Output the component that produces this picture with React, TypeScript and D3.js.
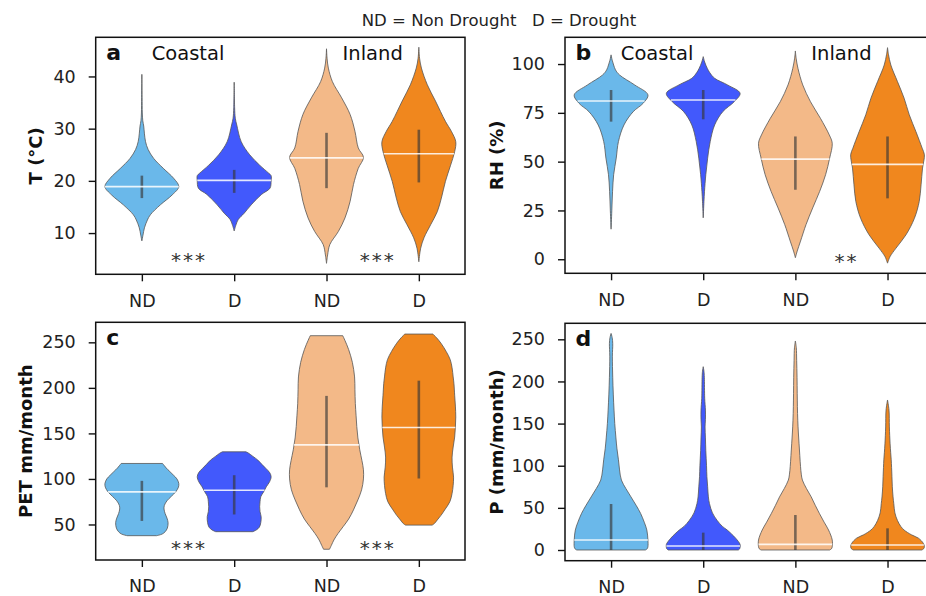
import { useEffect, useRef } from 'react';
import * as d3 from 'd3';

type Shape = [number, number][]; // [value, relative density 0..1]

const groups = ['ND', 'D', 'ND', 'D'];
const regions = ['Coastal', 'Inland'];
const colors = ['#6ab8ea', '#4259fc', '#f3b988', '#f0871e'];

// a: T (°C)
const tempShapes: Shape[] = [
  [[8.5, 0], [9.6, 0.03], [11, 0.07], [12.5, 0.15], [13.5, 0.23], [15.4, 0.5], [17.3, 0.82], [18.9, 1], [20.5, 0.86], [22.4, 0.58], [24.3, 0.32], [26, 0.17], [27.5, 0.1], [29, 0.07], [30.5, 0.05], [31.5, 0.025], [33, 0.012], [36, 0.006], [40.4, 0]],
  [[10.4, 0], [11.6, 0.05], [12.6, 0.11], [13.8, 0.27], [15.4, 0.46], [17.4, 0.74], [18.6, 0.97], [20, 1], [21, 1], [21.5, 0.93], [23, 0.69], [25, 0.42], [27.5, 0.19], [30.7, 0.07], [32, 0.03], [34, 0.012], [38.9, 0]],
  [[4.2, 0], [5.8, 0.03], [7.8, 0.09], [10.3, 0.32], [12.9, 0.5], [16.1, 0.64], [19.3, 0.73], [22.4, 0.86], [24.5, 1], [26.3, 0.86], [29.5, 0.77], [32.7, 0.64], [35.9, 0.41], [39, 0.16], [41.6, 0.05], [43.5, 0.015], [45.3, 0]],
  [[4.5, 0], [7.1, 0.05], [9.1, 0.14], [11.6, 0.32], [14.1, 0.5], [16.7, 0.61], [19.9, 0.72], [23, 0.86], [25.6, 0.97], [27.5, 1], [29.5, 0.88], [31.4, 0.72], [35.3, 0.45], [38.4, 0.23], [41.6, 0.07], [43.5, 0.02], [45.6, 0]],
];
const tempMedians = [18.9, 20.1, 24.4, 25.2];
const tempIqr = [[16.7, 21.0], [17.7, 22.1], [18.6, 29.2], [19.7, 29.8]];
const tempTicks = [10, 20, 30, 40];

// b: RH (%)
const rhShapes: Shape[] = [
  [[15.4, 0], [24.8, 0.02], [34.8, 0.04], [43.3, 0.07], [51.8, 0.14], [60.3, 0.2], [68.8, 0.35], [75.6, 0.6], [79.9, 0.87], [84.2, 1], [89.3, 0.64], [94.4, 0.23], [97, 0.12], [99.5, 0.07], [102, 0.03], [104.7, 0]],
  [[21.2, 0], [29.7, 0.02], [34.8, 0.035], [43.3, 0.07], [51.8, 0.12], [60.3, 0.19], [68.8, 0.31], [75.6, 0.53], [80.7, 0.84], [85, 1], [89.3, 0.66], [92.7, 0.31], [95.5, 0.18], [97.8, 0.11], [101, 0.04], [103.8, 0]],
  [[0.8, 0], [4.2, 0.05], [9.3, 0.14], [17.8, 0.29], [26.3, 0.47], [34.8, 0.66], [43.3, 0.82], [51.8, 0.93], [59.4, 1], [63.7, 0.92], [72.2, 0.68], [80.7, 0.41], [89.3, 0.2], [97.8, 0.07], [103, 0.02], [106.7, 0]],
  [[-2, 0], [1.4, 0.07], [5.7, 0.23], [12.5, 0.5], [21, 0.73], [29.6, 0.86], [38.1, 0.91], [46.7, 0.95], [53.5, 1], [56.9, 0.94], [65.4, 0.77], [74, 0.59], [82.5, 0.45], [91, 0.27], [99.5, 0.09], [105, 0.025], [108.4, 0]],
];
const rhMedians = [81.1, 81.6, 51.3, 48.6];
const rhIqr = [[70.5, 86.7], [71.7, 86.7], [35.6, 62.9], [31.2, 62.9]];
const rhTicks = [0, 25, 50, 75, 100];

// c: PET mm/month
const petShapes: Shape[] = [
  [[37.7, 0.4], [39.5, 0.55], [42, 0.63], [46, 0.69], [52, 0.71], [57, 0.68], [62, 0.63], [67, 0.6], [71, 0.61], [76, 0.68], [81, 0.8], [86, 0.92], [91, 0.99], [95, 1], [100, 0.95], [104, 0.86], [108, 0.76], [112, 0.66], [115, 0.6], [117, 0.56]],
  [[42.1, 0.5], [44, 0.6], [47, 0.68], [52, 0.72], [58.5, 0.73], [64, 0.7], [69.5, 0.69], [75, 0.7], [80.4, 0.72], [86, 0.8], [91.4, 0.87], [97, 0.96], [102.4, 1], [107, 0.96], [111.5, 0.86], [116, 0.75], [120.7, 0.64], [125, 0.5], [128, 0.4], [129.8, 0.32]],
  [[22.8, 0.08], [27, 0.13], [33, 0.2], [40, 0.31], [47.6, 0.45], [56, 0.6], [66, 0.73], [77, 0.85], [88, 0.95], [100, 1], [110, 1], [120, 0.96], [132, 0.9], [145, 0.85], [157.5, 0.82], [170, 0.8], [183, 0.78], [198, 0.77], [212, 0.76], [228, 0.7], [242, 0.6], [252, 0.5], [257.3, 0.44]],
  [[49.3, 0.36], [51, 0.42], [55, 0.5], [60, 0.6], [66, 0.7], [75, 0.84], [84, 0.9], [93, 0.93], [102, 0.94], [113, 0.91], [124, 0.9], [135, 0.93], [146, 0.97], [157, 0.99], [168, 1], [180, 0.99], [192, 0.97], [205, 0.95], [212, 0.93], [222, 0.9], [231, 0.85], [240, 0.74], [249, 0.6], [255, 0.48], [259.1, 0.38]],
];
const petMedians = [85.8, 87.6, 137.4, 156.5];
const petIqr = [[53.9, 97.9], [61, 104.1], [90.8, 191.2], [100.5, 207.9]];
const petTicks = [50, 100, 150, 200, 250];

// d: P (mm/month)
const precShapes: Shape[] = [
  [[0, 0.93], [1.5, 0.98], [4, 1], [11.8, 1], [23.7, 0.97], [33, 0.9], [43.5, 0.8], [53, 0.68], [63, 0.54], [73, 0.4], [83, 0.28], [95, 0.23], [107, 0.2], [120, 0.16], [134, 0.13], [150, 0.1], [166, 0.08], [185, 0.06], [205, 0.045], [230, 0.035], [245, 0.045], [252, 0.03], [257, 0]],
  [[0, 0.95], [1.5, 0.99], [3, 1], [6.6, 1], [14, 0.88], [23.7, 0.65], [28, 0.52], [35, 0.38], [44, 0.25], [55, 0.17], [63, 0.14], [75, 0.12], [87, 0.1], [100, 0.09], [118, 0.07], [133, 0.06], [146, 0.05], [155, 0.06], [166, 0.06], [180, 0.04], [205, 0.03], [212, 0.02], [217.5, 0]],
  [[0, 0.93], [1.5, 0.98], [4, 1], [11.8, 1], [23.7, 0.9], [33, 0.78], [43.5, 0.65], [53, 0.54], [63, 0.43], [73, 0.3], [83, 0.19], [90, 0.16], [99, 0.14], [112, 0.12], [126, 0.1], [140, 0.08], [154, 0.065], [170, 0.055], [186, 0.05], [205, 0.045], [225, 0.035], [240, 0.025], [248, 0]],
  [[0, 0.93], [1.5, 0.98], [4, 1], [8, 0.97], [14, 0.84], [18, 0.65], [23.7, 0.45], [28, 0.36], [35, 0.27], [44, 0.2], [55, 0.17], [63, 0.15], [75, 0.13], [87, 0.12], [98, 0.11], [107, 0.1], [116, 0.085], [126, 0.07], [146, 0.05], [166, 0.04], [178, 0]],
];
const precMedians = [11.9, 4.7, 6.7, 5.9];
const precIqr = [[0, 54.6], [0, 20.6], [0, 41.5], [0, 25.7]];
const precTicks = [0, 50, 100, 150, 200, 250];

const panels = [
  { letter: 'a', label: 'T (°C)', shapes: tempShapes, medians: tempMedians, iqr: tempIqr, ticks: tempTicks, yDomain: [2.1, 47.5], stars: ['***', '***'], starLift: 7.5, regions: true, box: [95.7, 465, 37.3, 274.3], labelX: 42 },
  { letter: 'b', label: 'RH (%)', shapes: rhShapes, medians: rhMedians, iqr: rhIqr, ticks: rhTicks, yDomain: [-7.2, 113.7], stars: ['', '**'], starLift: 5, regions: true, box: [565, 933.6, 37.3, 273.3], labelX: 503 },
  { letter: 'c', label: 'PET mm/month', shapes: petShapes, medians: petMedians, iqr: petIqr, ticks: petTicks, yDomain: [11, 272], stars: ['***', '***'], starLift: 5, regions: false, box: [95.7, 465, 322.3, 560], labelX: 32 },
  { letter: 'd', label: 'P (mm/month)', shapes: precShapes, medians: precMedians, iqr: precIqr, ticks: precTicks, yDomain: [-12.7, 269], stars: ['', ''], starLift: 5, regions: false, box: [565, 933.6, 323.3, 560.7], labelX: 503 },
];

function densityAt(shape: Shape, v: number) {
  for (let i = 1; i < shape.length; i++) {
    const [v0, d0] = shape[i - 1];
    const [v1, d1] = shape[i];
    if (v >= v0 && v <= v1) return d0 + ((v - v0) / (v1 - v0)) * (d1 - d0);
  }
  return v <= shape[0][0] ? shape[0][1] : shape[shape.length - 1][1];
}

export default function App() {
  const ref = useRef<SVGSVGElement>(null);

  useEffect(() => {
    if (!ref.current) return;
    const svg = d3.select(ref.current);
    svg.selectAll('*').remove();

    const font = 'DejaVu Sans, Verdana, sans-serif';

    svg.append('text')
      .attr('x', 499).attr('y', 26)
      .attr('text-anchor', 'middle')
      .style('font-size', '16.5px')
      .style('white-space', 'pre')
      .attr('fill', '#222')
      .text('ND = Non Drought   D = Drought');

    panels.forEach((p) => {
      const [left, right, top, bottom] = p.box;
      const x = d3.scaleLinear().domain([-0.5, 3.5]).range([left, right]);
      const y = d3.scaleLinear().domain(p.yDomain).range([bottom, top]);
      const unit = x(1) - x(0);
      const g = svg.append('g');

      // violins
      p.shapes.forEach((shape, i) => {
        const cx = x(i);
        const area = d3.area<[number, number]>()
          .y((d) => y(d[0]))
          .x0((d) => cx - d[1] * 0.4 * unit)
          .x1((d) => cx + d[1] * 0.4 * unit)
          .curve(d3.curveCatmullRom.alpha(0.5));
        g.append('path')
          .datum(shape)
          .attr('d', area)
          .attr('fill', colors[i])
          .attr('stroke', '#555')
          .attr('stroke-width', 0.8);

        const [q1, q3] = p.iqr[i];
        g.append('line')
          .attr('x1', cx).attr('x2', cx)
          .attr('y1', y(q1)).attr('y2', y(q3))
          .attr('stroke', 'rgba(55,55,55,0.65)')
          .attr('stroke-width', 2.6);

        const m = p.medians[i];
        const hw = densityAt(shape, m) * 0.4 * unit;
        g.append('line')
          .attr('x1', cx - hw).attr('x2', cx + hw)
          .attr('y1', y(m)).attr('y2', y(m))
          .attr('stroke', 'rgba(255,255,255,0.85)')
          .attr('stroke-width', 1.6);
      });

      // frame
      g.append('rect')
        .attr('x', left).attr('y', top)
        .attr('width', right - left).attr('height', bottom - top)
        .attr('fill', 'none')
        .attr('stroke', '#111')
        .attr('stroke-width', 1.5);

      // axes
      g.append('g')
        .attr('transform', `translate(${left},0)`)
        .call(d3.axisLeft(y).tickValues(p.ticks).tickSize(7).tickPadding(13))
        .call((a) => a.select('.domain').remove())
        .call((a) => a.selectAll('.tick line').attr('stroke', '#111').attr('stroke-width', 1.4))
        .call((a) => a.selectAll('text').attr('fill', '#222').style('font-size', '17.5px').style('font-family', font));

      g.append('g')
        .attr('transform', `translate(0,${bottom})`)
        .call(d3.axisBottom(x).tickValues([0, 1, 2, 3]).tickFormat((d) => groups[d as number]).tickSize(7).tickPadding(13))
        .call((a) => a.select('.domain').remove())
        .call((a) => a.selectAll('.tick line').attr('stroke', '#111').attr('stroke-width', 1.4))
        .call((a) => a.selectAll('text').attr('fill', '#222').style('font-size', '17.5px').style('font-family', font));

      // y label
      g.append('text')
        .attr('transform', `translate(${p.labelX},${(top + bottom) / 2}) rotate(-90)`)
        .attr('text-anchor', 'middle')
        .style('font-size', '18px')
        .style('font-weight', 'bold')
        .attr('fill', '#111')
        .text(p.label);

      // panel letter
      g.append('text')
        .attr('x', left + 10.5).attr('y', top + 23)
        .style('font-size', '22px')
        .style('font-weight', 'bold')
        .attr('fill', '#111')
        .text(p.letter);

      if (p.regions) {
        regions.forEach((r, k) => {
          g.append('text')
            .attr('x', x(0.5 + 2 * k)).attr('y', top + 23)
            .attr('text-anchor', 'middle')
            .style('font-size', '19.5px')
            .attr('fill', '#111')
            .text(r);
        });
      }

      p.stars.forEach((s, k) => {
        if (!s) return;
        g.append('text')
          .attr('x', x(0.5 + 2 * k) + (k ? 5 : 1)).attr('y', bottom - p.starLift)
          .attr('text-anchor', 'middle')
          .style('font-size', '20px')
          .style('letter-spacing', '2px')
          .attr('fill', '#333')
          .text(s);
      });
    });
  }, []);

  return (
    <svg
      ref={ref}
      width={926}
      height={596}
      style={{ position: 'absolute', left: 0, top: 0, background: '#fff', fontFamily: 'DejaVu Sans, Verdana, sans-serif' }}
    />
  );
}
